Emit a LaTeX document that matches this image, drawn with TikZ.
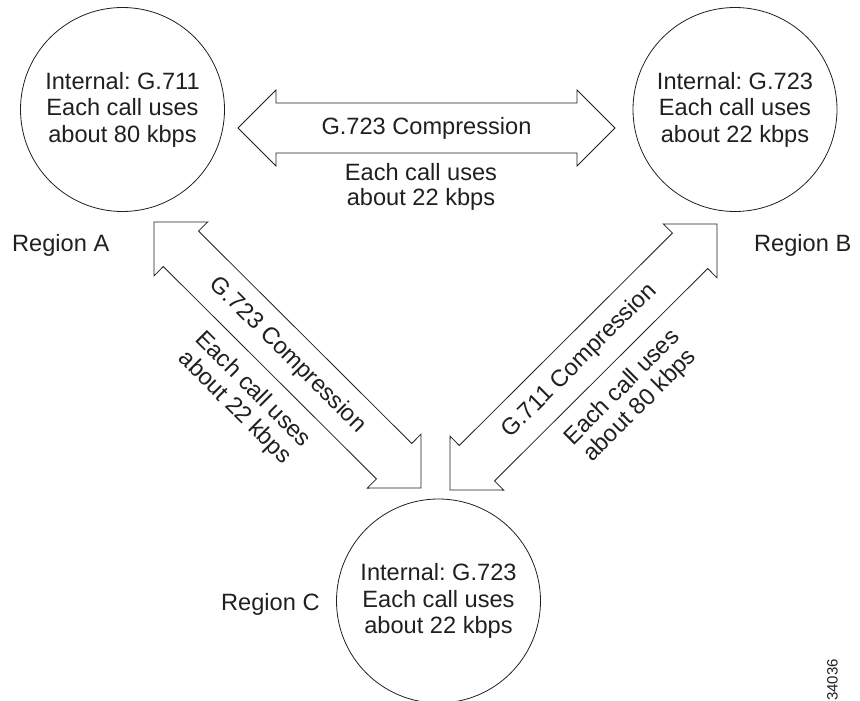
\documentclass[tikz,border=0pt]{standalone}
\usepackage{fontspec}
\setmainfont{Liberation Sans}
\frenchspacing
\usetikzlibrary{calc}
\definecolor{ink}{HTML}{231F20}
\tikzset{
  region/.style={circle, draw=ink, line width=0.8pt, minimum size=204pt, inner sep=0pt, align=center, text=ink, font=\fontsize{23.6}{26.5}\selectfont},
  lbl/.style={text=ink, font=\fontsize{23.6}{26.5}\selectfont, inner sep=0pt},
  blk/.style={text=ink, align=center, font=\fontsize{23.6}{25.5}\selectfont, inner sep=0pt},
  fat/.style={draw=ink, line width=0.8pt, line join=miter, fill=white},
}
\newcommand\fatarrow[2]{%
  \draw[fat] (#1)
    -- ($($(#1)!38pt!(#2)$)!38pt!90:(#2)$)
    -- ($($(#1)!38pt!(#2)$)!25pt!90:(#2)$)
    -- ($($(#2)!38pt!(#1)$)!25pt!-90:(#1)$)
    -- ($($(#2)!38pt!(#1)$)!38pt!-90:(#1)$)
    -- (#2)
    -- ($($(#2)!38pt!(#1)$)!38pt!90:(#1)$)
    -- ($($(#2)!38pt!(#1)$)!25pt!90:(#1)$)
    -- ($($(#1)!38pt!(#2)$)!25pt!-90:(#2)$)
    -- ($($(#1)!38pt!(#2)$)!38pt!-90:(#2)$)
    -- cycle;}
\begin{document}
\begin{tikzpicture}[x=1pt, y=-1pt]
\useasboundingbox[fill=white] (0,0) rectangle (860,701);
% regions
\node[region] (A) at (122.5,109.5) {Internal: G.711\\Each call uses\\about 80 kbps};
\node[region] (B) at (735,109.5) {Internal: G.723\\Each call uses\\about 22 kbps};
\node[region] (C) at (438.5,601) {Internal: G.723\\Each call uses\\about 22 kbps};
\node[lbl, anchor=base west] (la) at (12,251.5) {Region A};
\node[lbl, anchor=base west] (lb) at (754,251.5) {Region B};
\node[lbl, anchor=base west] (lc) at (221,610) {Region C};
% arrow tips
\coordinate (ab1) at (238,128);
\coordinate (ab2) at (615,128);
\coordinate (ac1) at (154,222);
\coordinate (ac2) at (421,488);
\coordinate (bc1) at (717,224);
\coordinate (bc2) at (450,490);
\fatarrow{ab1}{ab2}
\fatarrow{ac1}{ac2}
\fatarrow{bc1}{bc2}
% labels on arrows
\node[lbl] (tab) at ($(ab1)!0.5!(ab2)$) {G.723 Compression};
\node[blk] (sab) at (421,187) {Each call uses\\about 22 kbps};
\node[lbl, rotate=-45] (tac) at ($(ac1)!0.5!(ac2)$) {G.723 Compression};
\node[blk, rotate=-45] (sac) at (243.5,399) {Each call uses\\about 22 kbps};
\node[lbl, rotate=45] (tbc) at (579.5,361) {G.711 Compression};
\node[blk, rotate=45] (sbc) at (631.5,397) {Each call uses\\about 80 kbps};
\node[text=ink, font=\fontsize{15}{15}\selectfont, rotate=90, inner sep=0pt] (fig) at (832.5,680) {34036};
\end{tikzpicture}
\end{document}
